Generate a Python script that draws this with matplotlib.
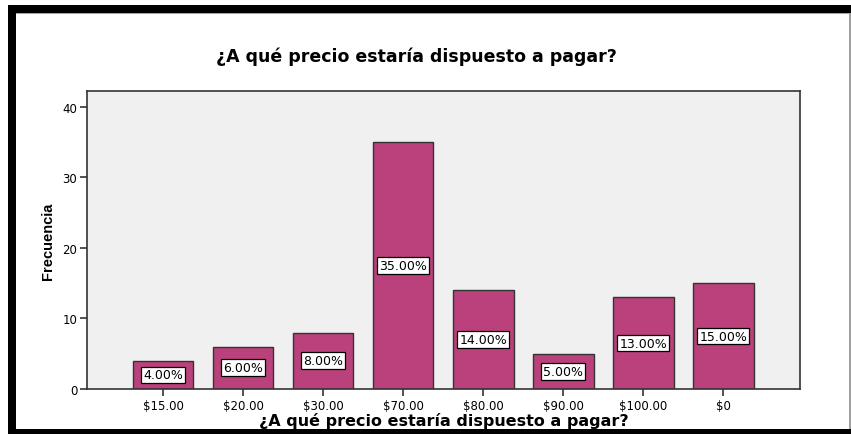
import matplotlib
matplotlib.use("Agg")
import matplotlib.pyplot as plt
from matplotlib.patches import Rectangle

categories = ["$15.00", "$20.00", "$30.00", "$70.00", "$80.00", "$90.00", "$100.00", "$0"]
frecuencia = [4, 6, 8, 35, 14, 5, 13, 15]
porcentaje = ["4.00%", "6.00%", "8.00%", "35.00%", "14.00%", "5.00%", "13.00%", "15.00%"]

plt.rcParams["font.family"] = ["DejaVu Sans"]

W, H = 851, 435
fig = plt.figure(figsize=(W / 100, H / 100), dpi=100)
fig.patch.set_facecolor("white")

# black frame around the chart (pixel coords converted to figure fractions)
def px_rect(x0, y0, x1, y1, color):
    fig.patches.append(Rectangle((x0 / W, 1 - y1 / H), (x1 - x0) / W, (y1 - y0) / H,
                                 transform=fig.transFigure, facecolor=color,
                                 edgecolor="none", zorder=0))

px_rect(8, 6, W, 14, "black")
px_rect(8, 14, W, 15, "#a0a0a0")
px_rect(8, 6, 16, H, "black")
px_rect(8, 430, W, H, "black")
px_rect(849, 14, 851, 430, "#a0a0a0")

ax = fig.add_axes([87 / W, 1 - 390 / H, (800 - 87) / W, (390 - 92) / H])
ax.set_facecolor("#f0f0f0")

x = range(len(categories))
ax.bar(x, frecuencia, width=0.76, color="#bb417d", edgecolor="#333333", linewidth=1.0, zorder=2)

for i, (v, lab) in enumerate(zip(frecuencia, porcentaje)):
    ax.text(i, v / 2, lab, ha="center", va="center", fontsize=9, zorder=3,
            bbox=dict(boxstyle="square,pad=0.15", facecolor="white", edgecolor="black", linewidth=0.9))

ax.set_xlim(-0.95, 7.96)
ax.set_ylim(0, 42.2)
ax.set_yticks([0, 10, 20, 30, 40])
ax.set_xticks(list(x))
ax.set_xticklabels(categories)
ax.tick_params(axis="both", direction="out", length=5, width=1.2, color="#333333", labelsize=8.5, pad=2)

for s in ax.spines.values():
    s.set_color("#333333")
    s.set_linewidth(1.2)

ax.set_xlabel("¿A qué precio estaría dispuesto a pagar?", fontsize=11.5, fontweight="bold", labelpad=0)
ax.set_ylabel("Frecuencia", fontsize=10.5, fontweight="bold",
              family=["Liberation Sans Narrow", "Liberation Sans", "DejaVu Sans"], labelpad=5)

fig.text(416 / W, 1 - 57 / H, "¿A qué precio estaría dispuesto a pagar?", ha="center", va="center",
         fontsize=12.5, fontweight="bold")

fig.savefig("out.png", dpi=100)
